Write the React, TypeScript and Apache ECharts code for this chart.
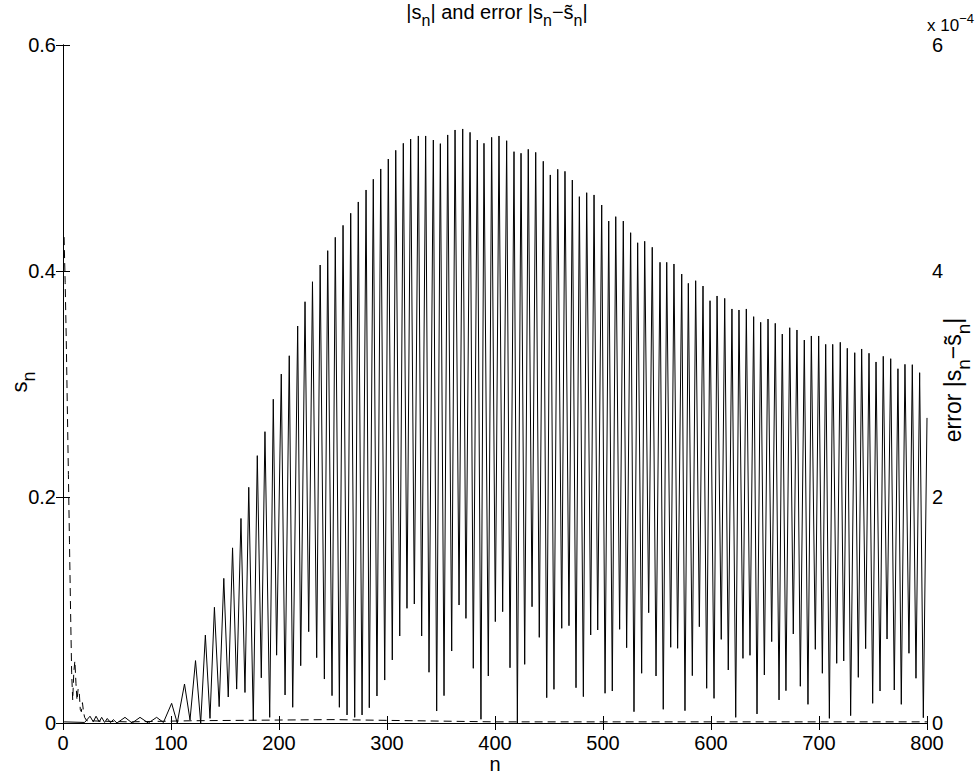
import React, { useEffect, useRef } from "react";
import * as echarts from "echarts";

// |s_n| local maxima (n, value)
const sMaxN = [25, 30.6, 35.8, 41, 46.6, 57.4, 71.3, 86.7, 100.6, 112.5,
  122.7, 131.8, 140.2, 148.9, 157, 164.8, 172, 179.9, 187, 194.7,
  202.1, 209.5, 217.3, 224.1, 231, 238.1, 245.1, 252.1, 259.3, 266.4,
  273.4, 280.6, 287.3, 294.2, 301.2, 308.1, 315.1, 321.9, 329, 335.8,
  342.9, 349.4, 356.2, 363, 370.1, 376.9, 383.6, 389.8, 396.9, 403.7,
  410.8, 417.6, 424.1, 430.8, 437.7, 444.7, 451.2, 458.1, 464.8, 471.6,
  478.1, 484.9, 491.7, 498.8, 505.3, 511.8, 518.8, 525.6, 532.1, 538.6,
  545.6, 552.8, 559, 565.7, 572.9, 579, 585.8, 592.6, 599.1, 605.6,
  612.7, 619.4, 625.9, 632.7, 639.5, 646, 652.8, 659.5, 666, 672.9,
  679.6, 686.4, 692.9, 699.7, 706.2, 712.7, 719.7, 726.2, 733.1, 739.5,
  746.3, 752.8, 759.5, 766.4, 773.1, 779.6, 786.4, 793.2];
const sMaxV = [0.006, 0.006, 0.005, 0.004, 0.003, 0.005, 0.005, 0.005, 0.0174, 0.0345,
  0.0552, 0.0778, 0.1024, 0.128, 0.155, 0.181, 0.2086, 0.2366, 0.2578, 0.2865,
  0.3088, 0.325, 0.3513, 0.3728, 0.3905, 0.4053, 0.418, 0.4298, 0.4404, 0.4511,
  0.4611, 0.4717, 0.4812, 0.4903, 0.4991, 0.5068, 0.513, 0.5168, 0.5195, 0.5195,
  0.5159, 0.5127, 0.5204, 0.5248, 0.5257, 0.5227, 0.5159, 0.513, 0.5183, 0.5195,
  0.5153, 0.5056, 0.5042, 0.5077, 0.505, 0.4971, 0.485, 0.49, 0.4882, 0.4805,
  0.4658, 0.4693, 0.4673, 0.4584, 0.4442, 0.4481, 0.4442, 0.4339, 0.425, 0.4263,
  0.421, 0.4077, 0.4077, 0.4062, 0.3973, 0.3891, 0.3914, 0.3867, 0.3737, 0.3779,
  0.3758, 0.3664, 0.3655, 0.3664, 0.3596, 0.3546, 0.3575, 0.3537, 0.3442, 0.3498,
  0.3478, 0.3389, 0.3425, 0.3425, 0.3351, 0.3351, 0.3369, 0.3316, 0.3277, 0.331,
  0.3272, 0.3195, 0.3245, 0.3224, 0.3135, 0.3174, 0.3171, 0.31];

// |s_n| local minima (n, value)
const sMinN = [1, 20, 28, 33.5, 38.5, 44, 50, 64, 79, 93,
  105.8, 117.6, 127.5, 136.1, 144.6, 153, 160.8, 168.5, 176.2, 183.6,
  191.4, 197.8, 205.6, 212.7, 220.1, 227.5, 234.9, 242, 249.1, 255.9,
  263, 270.1, 276.9, 283.6, 290.7, 297.9, 304.9, 311.8, 318.5, 325.3,
  332.1, 338.9, 346, 352.8, 359.9, 366.7, 373.1, 379.9, 387, 393.8,
  400.3, 407.1, 413.9, 420.7, 427.5, 434.3, 441, 447.9, 454.6, 461.8,
  468.5, 475, 481.8, 488.6, 495.1, 501.9, 508.6, 515.4, 521.9, 528.7,
  535.8, 542.3, 549.1, 555.8, 562.7, 569.1, 575.9, 582.7, 589.2, 596,
  602.8, 609.5, 616, 622.9, 629.6, 636.1, 642.6, 649.4, 656.2, 663,
  669.4, 676.2, 682.7, 689.8, 696.6, 703.1, 709.6, 716.4, 722.9, 729.3,
  736.4, 743.2, 749.7, 756.5, 763, 769.7, 776.2, 783.3, 789.8, 796.6];
const sMinV = [0.001, 0.0005, 0.001, 0.001, 0.0005, 0.0003, 0.0, 0.0, 0.0, 0.0005,
  0, 0.0027, 0, 0.0041, 0.0145, 0.023, 0.03, 0.027, 0.002, 0.04,
  0.005, 0.06, 0.0248, 0.0139, 0.0507, 0.0808, 0.0578, 0.0389, 0.0242, 0.0139,
  0.0071, 0.005, 0.0071, 0.0135, 0.0239, 0.038, 0.0558, 0.077, 0.1015, 0.1053,
  0.077, 0.0449, 0.0106, 0.0242, 0.0637, 0.1044, 0.0926, 0.0484, 0.0033, 0.0416,
  0.0897, 0.0985, 0.0489, 0, 0.0519, 0.1029, 0.0758, 0.0224, 0.0298, 0.0838,
  0.0861, 0.0312, 0.0233, 0.0779, 0.0823, 0.0263, 0.0283, 0.0829, 0.0666, 0.01,
  0.044, 0.0976, 0.0416, 0.0121, 0.067, 0.0661, 0.0109, 0.0419, 0.0852, 0.0307,
  0.0218, 0.074, 0.0469, 0.005, 0.0572, 0.0599, 0.008, 0.0425, 0.072, 0.0204,
  0.0286, 0.0788, 0.0325, 0.0165, 0.0652, 0.044, 0.0041, 0.0528, 0.0549, 0.0065,
  0.0404, 0.0658, 0.0174, 0.0283, 0.0743, 0.0292, 0.0165, 0.0617, 0.0396, 0.0047];

// last sample
const sEndN = [800];
const sEndV = [0.27];

// error |s_n - s~_n|
const errN = [1, 2, 3, 4, 5, 6, 7, 8, 9, 10, 11, 12, 13, 14, 15, 16, 17, 18, 19, 20, 22, 60, 120, 250, 400, 600, 800];
const errV = [4.3e-4, 3.9e-4, 3.4e-4, 2.8e-4, 2.2e-4, 1.6e-4, 1.0e-4, 0.45e-4, 0.2e-4, 0.45e-4,
  0.55e-4, 0.35e-4, 0.2e-4, 0.3e-4, 0.28e-4, 0.12e-4, 0.1e-4, 0.18e-4, 0.1e-4, 0.05e-4,
  0.02e-4, 0.01e-4, 0.02e-4, 0.03e-4, 0.01e-4, 0.01e-4, 0.01e-4];

const xTickStep = 100;
const leftTickStep = 0.2;
const rightTickStep = 2e-4;

const F = '"Liberation Sans", Arial, Helvetica, sans-serif';
const FS = 20;

export default function App() {
  const ref = useRef<HTMLDivElement>(null);
  useEffect(() => {
    const chart = echarts.init(ref.current!, null, { renderer: "svg" });
    const pts: number[][] = [];
    sMaxN.forEach((n, i) => pts.push([n, sMaxV[i]]));
    sMinN.forEach((n, i) => pts.push([n, sMinV[i]]));
    sEndN.forEach((n, i) => pts.push([n, sEndV[i]]));
    pts.sort((a, b) => a[0] - b[0]);
    const err = errN.map((n, i) => [n, errV[i]]);

    const axisLine = { show: true, lineStyle: { color: "#000", width: 1 } };
    const axisTick = { show: true, inside: true, length: 7, lineStyle: { color: "#000", width: 1 } };
    const lbl = { color: "#000", fontFamily: F, fontSize: FS, showMinLabel: true, showMaxLabel: true };

    const txtBase = { fill: "#000", fontFamily: F, verticalAlign: "bottom" as const };
    const mkRich = (size: number, drop: number) => ({
      t: { ...txtBase, fontSize: size, padding: [0, 0, drop, 0] },
      s: { ...txtBase, fontSize: size - 4 },
    });

    chart.setOption({
      animation: false,
      backgroundColor: "#fff",
      grid: { left: 63, right: 52, top: 45, bottom: 53, containLabel: false },
      xAxis: [
        {
          type: "value", min: 0, max: 800, interval: xTickStep, position: "bottom",
          axisLine, axisTick, splitLine: { show: false },
          axisLabel: { ...lbl, margin: 10 },
        },
        {
          type: "value", min: 0, max: 800, interval: xTickStep, position: "top",
          axisLine, axisTick, splitLine: { show: false }, axisLabel: { show: false },
        },
      ],
      yAxis: [
        {
          type: "value", min: 0, max: 0.6, interval: leftTickStep, position: "left",
          axisLine, axisTick, splitLine: { show: false },
          axisLabel: { ...lbl, margin: 7, formatter: (v: number) => String(+v.toFixed(1)) },
        },
        {
          type: "value", min: 0, max: 6e-4, interval: rightTickStep, position: "right",
          axisLine, axisTick, splitLine: { show: false },
          axisLabel: { ...lbl, margin: 5, formatter: (v: number) => String(Math.round(v * 1e4)) },
        },
      ],
      series: [
        {
          type: "line", xAxisIndex: 0, yAxisIndex: 0, data: pts,
          symbol: "none", showSymbol: false, lineStyle: { color: "#000", width: 1 },
        },
        {
          type: "line", xAxisIndex: 0, yAxisIndex: 1, data: err,
          symbol: "none", showSymbol: false, lineStyle: { color: "#000", width: 1, type: [8, 5] },
        },
      ],
      graphic: [
        {
          type: "text", x: 497, y: 15,
          style: {
            text: "{t||s}{s|n}{t|| and error |s}{s|n}{t|\u2212s\u0303}{s|n}{t||}",
            align: "center", verticalAlign: "middle", rich: mkRich(20, 7),
          },
        },
        {
          type: "text", x: 495, y: 764,
          style: { text: "n", fill: "#000", fontFamily: F, fontSize: 20, align: "center", verticalAlign: "middle" },
        },
        {
          type: "text", x: 23, y: 382, rotation: Math.PI / 2,
          style: { text: "{t|s}{s|n}", align: "center", verticalAlign: "middle", rich: mkRich(22, 8) },
        },
        {
          type: "text", x: 957, y: 380, rotation: Math.PI / 2,
          style: {
            text: "{t|error |s}{s|n}{t|\u2212s\u0303}{s|n}{t||}",
            align: "center", verticalAlign: "middle", rich: mkRich(23, 8),
          },
        },
        {
          type: "text", x: 927, y: 23,
          style: {
            text: "{b|x 10}{p|\u22124}",
            align: "left", verticalAlign: "middle",
            rich: {
              b: { ...txtBase, fontSize: 17 },
              p: { ...txtBase, fontSize: 13, padding: [0, 0, 9, 0] },
            },
          },
        },
      ],
    });
    return () => chart.dispose();
  }, []);
  return (
    <div
      ref={ref}
      style={{ position: "fixed", left: 0, top: 0, width: 979, height: 776, background: "#fff" }}
    />
  );
}
